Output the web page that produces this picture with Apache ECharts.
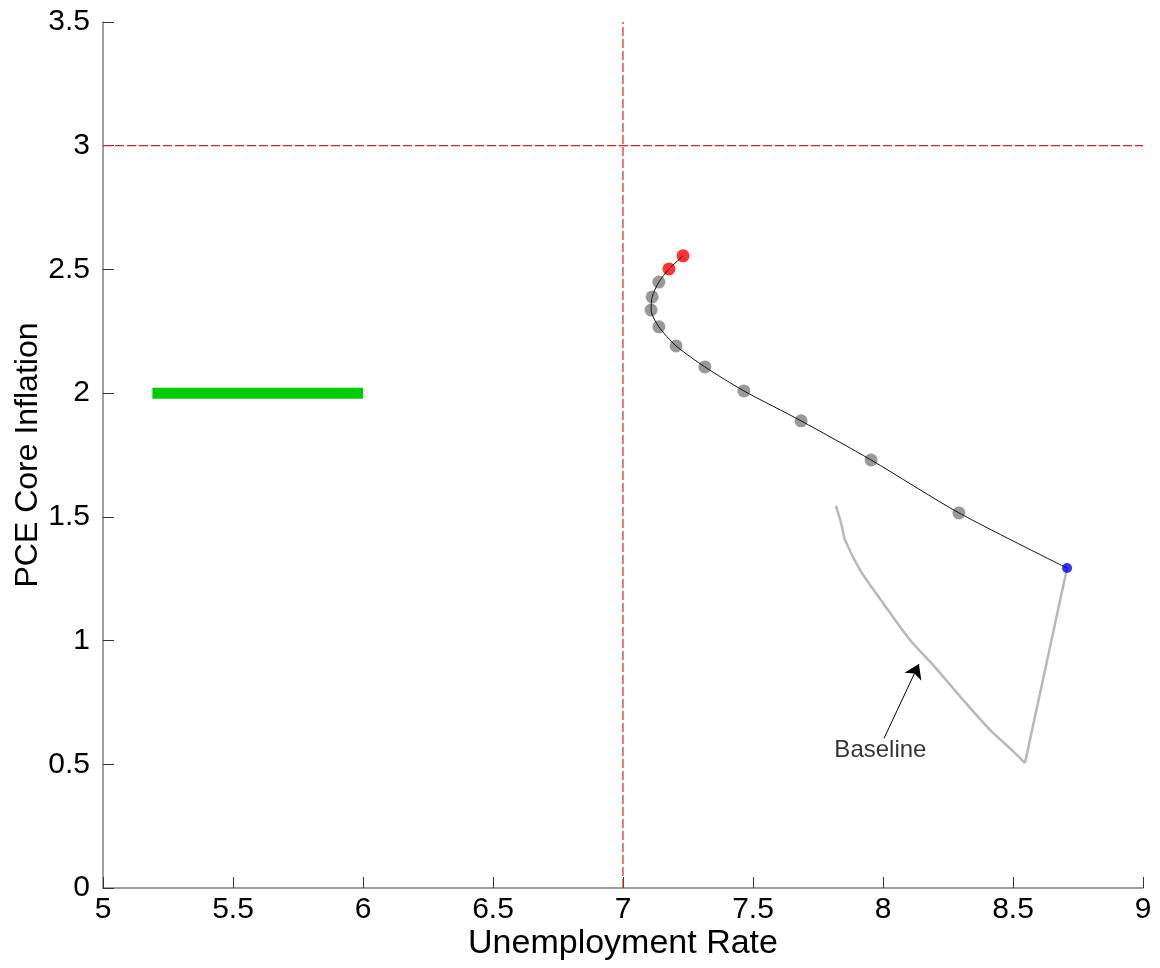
<!DOCTYPE html>
<html>
<head>
<meta charset="utf-8">
<script src="https://cdn.jsdelivr.net/npm/echarts@6/dist/echarts.min.js"></script>
<style>
  html, body { margin: 0; padding: 0; background: #fff; }
  #chart { width: 1160px; height: 968px; }
</style>
</head>
<body>
<div id="chart"></div>
<script>
// policy path (first two red, last blue, rest gray)
const pathX = [7.231, 7.177, 7.138, 7.112, 7.108, 7.138, 7.204, 7.315, 7.465, 7.685, 7.954, 8.292, 8.708];
const pathY = [2.555, 2.502, 2.449, 2.389, 2.336, 2.268, 2.191, 2.106, 2.009, 1.888, 1.730, 1.516, 1.293];

// baseline projection (curve down, then straight back up to the start point)
const baseX = [7.819, 7.840, 7.854, 7.912, 8.000, 8.104, 8.188, 8.308, 8.412, 8.500, 8.546, 8.708];
const baseY = [1.544, 1.470, 1.407, 1.285, 1.152, 1.002, 0.907, 0.760, 0.639, 0.553, 0.505, 1.293];

// target bar
const targetX = [5.19, 6.0];
const targetY = [2.0, 2.0];

// thresholds
const thresholdUX = [7, 7];
const thresholdUY = [0, 3.5];
const thresholdPX = [5, 9];
const thresholdPY = [3, 3];

// annotation
const arrowFrom = [8.004, 0.605];
const arrowTo = [8.138, 0.905];
const labelPos = [7.99, 0.555];
const labelText = 'Baseline';

const FONT = "'Liberation Sans', Arial, sans-serif";

function pairs(xs, ys) {
    return xs.map((x, i) => [x, ys[i]]);
}

const chart = echarts.init(document.getElementById('chart'));

let dotColor = function (i) {
    if (i < 2) return '#ff0000';
    if (i === pathX.length - 1) return '#0000ff';
    return '#808080';
};

const basePts = pairs(baseX, baseY);
const baseCurve = basePts.slice(0, basePts.length - 1);
const baseReturn = basePts.slice(basePts.length - 2);

let options = {
    animation: false,
    grid: { left: 103, right: 17, top: 22, bottom: 80, outerBoundsMode: 'none', containLabel: false },
    xAxis: {
        type: 'value',
        min: 5,
        max: 9,
        interval: 0.5,
        name: 'Unemployment Rate',
        nameLocation: 'middle',
        nameGap: 39,
        nameMoveOverlap: false,
        nameTextStyle: { fontFamily: FONT, fontSize: 34, color: '#000' },
        axisLine: { lineStyle: { color: '#7f7f7f', width: 1.5 } },
        axisTick: { inside: true, length: 11, lineStyle: { color: '#333' } },
        axisLabel: { fontFamily: FONT, fontSize: 30, color: '#000', margin: 7 },
        splitLine: { show: false }
    },
    yAxis: {
        type: 'value',
        min: 0,
        max: 3.5,
        interval: 0.5,
        name: 'PCE Core Inflation',
        nameLocation: 'middle',
        nameGap: 59,
        nameMoveOverlap: false,
        nameTextStyle: { fontFamily: FONT, fontSize: 32, color: '#000' },
        axisLine: { show: true, lineStyle: { color: '#7f7f7f', width: 1.5 } },
        axisTick: { show: true, inside: true, length: 11, lineStyle: { color: '#333' } },
        axisLabel: { fontFamily: FONT, fontSize: 30, color: '#000', margin: 13 },
        splitLine: { show: false }
    },
    series: [
        {
            type: 'line',
            data: pairs(thresholdUX, thresholdUY),
            symbol: 'none',
            lineStyle: { color: '#d92226', width: 1.2, type: [9, 3] },
            z: 1
        },
        {
            type: 'line',
            data: pairs(thresholdPX, thresholdPY),
            symbol: 'none',
            lineStyle: { color: '#d92226', width: 1.2, type: [9, 3] },
            z: 1
        },
        {
            type: 'line',
            data: pairs(targetX, targetY),
            symbol: 'none',
            lineStyle: { color: '#00cc00', width: 11, cap: 'butt' },
            z: 2
        },
        {
            type: 'line',
            data: baseCurve,
            symbol: 'none',
            smooth: 0.3,
            lineStyle: { color: '#b8b8b8', width: 2.5 },
            z: 2
        },
        {
            type: 'line',
            data: baseReturn,
            symbol: 'none',
            lineStyle: { color: '#b8b8b8', width: 2.5 },
            z: 2
        },
        {
            type: 'scatter',
            data: pairs(pathX, pathY).map((p, i) => ({
                value: p,
                itemStyle: { color: dotColor(i) },
                symbolSize: i === pathX.length - 1 ? 10 : 13
            })),
            z: 3
        },
        {
            type: 'line',
            data: pairs(pathX, pathY),
            symbol: 'none',
            smooth: 0.25,
            lineStyle: { color: '#111', width: 1 },
            z: 4
        },
        {
            type: 'lines',
            coordinateSystem: 'cartesian2d',
            symbol: ['none', 'arrow'],
            symbolSize: 14,
            lineStyle: { color: '#000', width: 1, opacity: 1 },
            data: [{ coords: [arrowFrom, arrowTo] }],
            z: 5
        },
        {
            type: 'scatter',
            symbolSize: 0,
            data: [labelPos],
            label: {
                show: true,
                position: 'inside',
                formatter: labelText,
                fontFamily: FONT,
                fontSize: 24,
                color: '#000',
                textBorderWidth: 0
            },
            z: 5
        }
    ]
};

chart.setOption(options);
</script>
</body>
</html>
